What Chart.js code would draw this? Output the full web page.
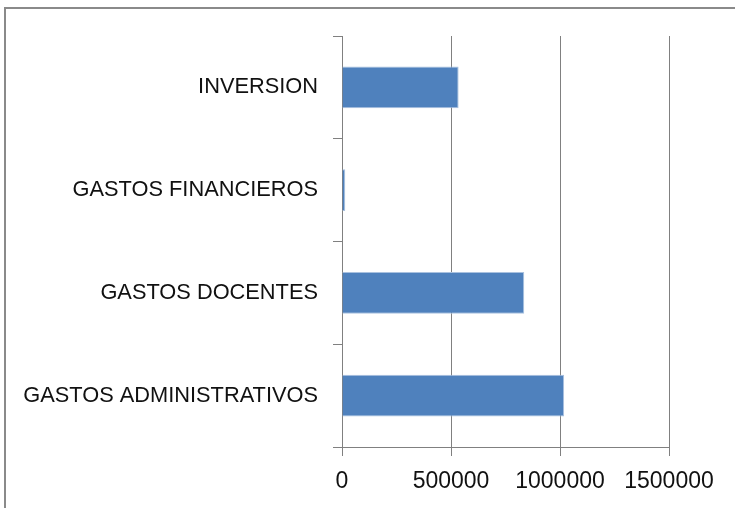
<!DOCTYPE html>
<html>
<head>
<meta charset="utf-8">
<script src="https://cdn.jsdelivr.net/npm/chart.js@4/dist/chart.umd.min.js"></script>
<style>
  html, body { margin: 0; padding: 0; background: #fff; overflow: hidden; }
  #marco {
    position: absolute; left: 4px; top: 7px; width: 900px; height: 700px;
    border-left: 2px solid #8a8a8a; border-top: 2px solid #8a8a8a;
  }
  #grafico { position: absolute; left: 0; top: 0; }
</style>
</head>
<body>
<div id="marco"></div>
<canvas id="grafico" width="735" height="508"></canvas>
<script>
// Rubros de gasto, de arriba hacia abajo
const rubros = ['INVERSION', 'GASTOS FINANCIEROS', 'GASTOS DOCENTES', 'GASTOS ADMINISTRATIVOS']
const montos = [535000, 15000, 836000, 1019000]
const ticksX = [0, 500000, 1000000, 1500000]

const colorGrilla = '#808080'
const fuente = "'Liberation Sans', Arial, sans-serif"

const ctx = document.getElementById('grafico').getContext('2d')
new Chart(ctx, {
    type: 'bar',
    data: {
        labels: rubros,
        datasets: [{
            data: montos,
            backgroundColor: '#4f81bd',
            borderColor: '#a9c1df',
            borderWidth: 1,
            borderSkipped: 'start',
            categoryPercentage: 1,
            barPercentage: 0.405
        }]
    },
    options: {
        indexAxis: 'y',
        responsive: false,
        animation: false,
        layout: { padding: { left: 0, right: 66, top: 36, bottom: 0 } },
        plugins: { legend: { display: false }, tooltip: { enabled: false } },
        scales: {
            x: {
                min: ticksX[0],
                max: ticksX[ticksX.length - 1],
                afterBuildTicks: scale => { scale.ticks = ticksX.map(v => ({ value: v })) },
                afterFit: scale => { scale.height = 61 },
                grid: { color: colorGrilla, lineWidth: 1, tickLength: 9 },
                border: { color: colorGrilla, width: 1 },
                ticks: {
                    color: '#111',
                    padding: 12,
                    maxRotation: 0,
                    font: { family: fuente, size: 23 },
                    callback: v => String(v)
                }
            },
            y: {
                afterFit: scale => { scale.width = 342 },
                grid: { offset: true, drawOnChartArea: false, color: colorGrilla, lineWidth: 1, tickLength: 9 },
                border: { color: colorGrilla, width: 1 },
                ticks: {
                    color: '#111',
                    padding: 15,
                    font: { family: fuente, size: 21.8 }
                }
            }
        }
    }
})
</script>
</body>
</html>
